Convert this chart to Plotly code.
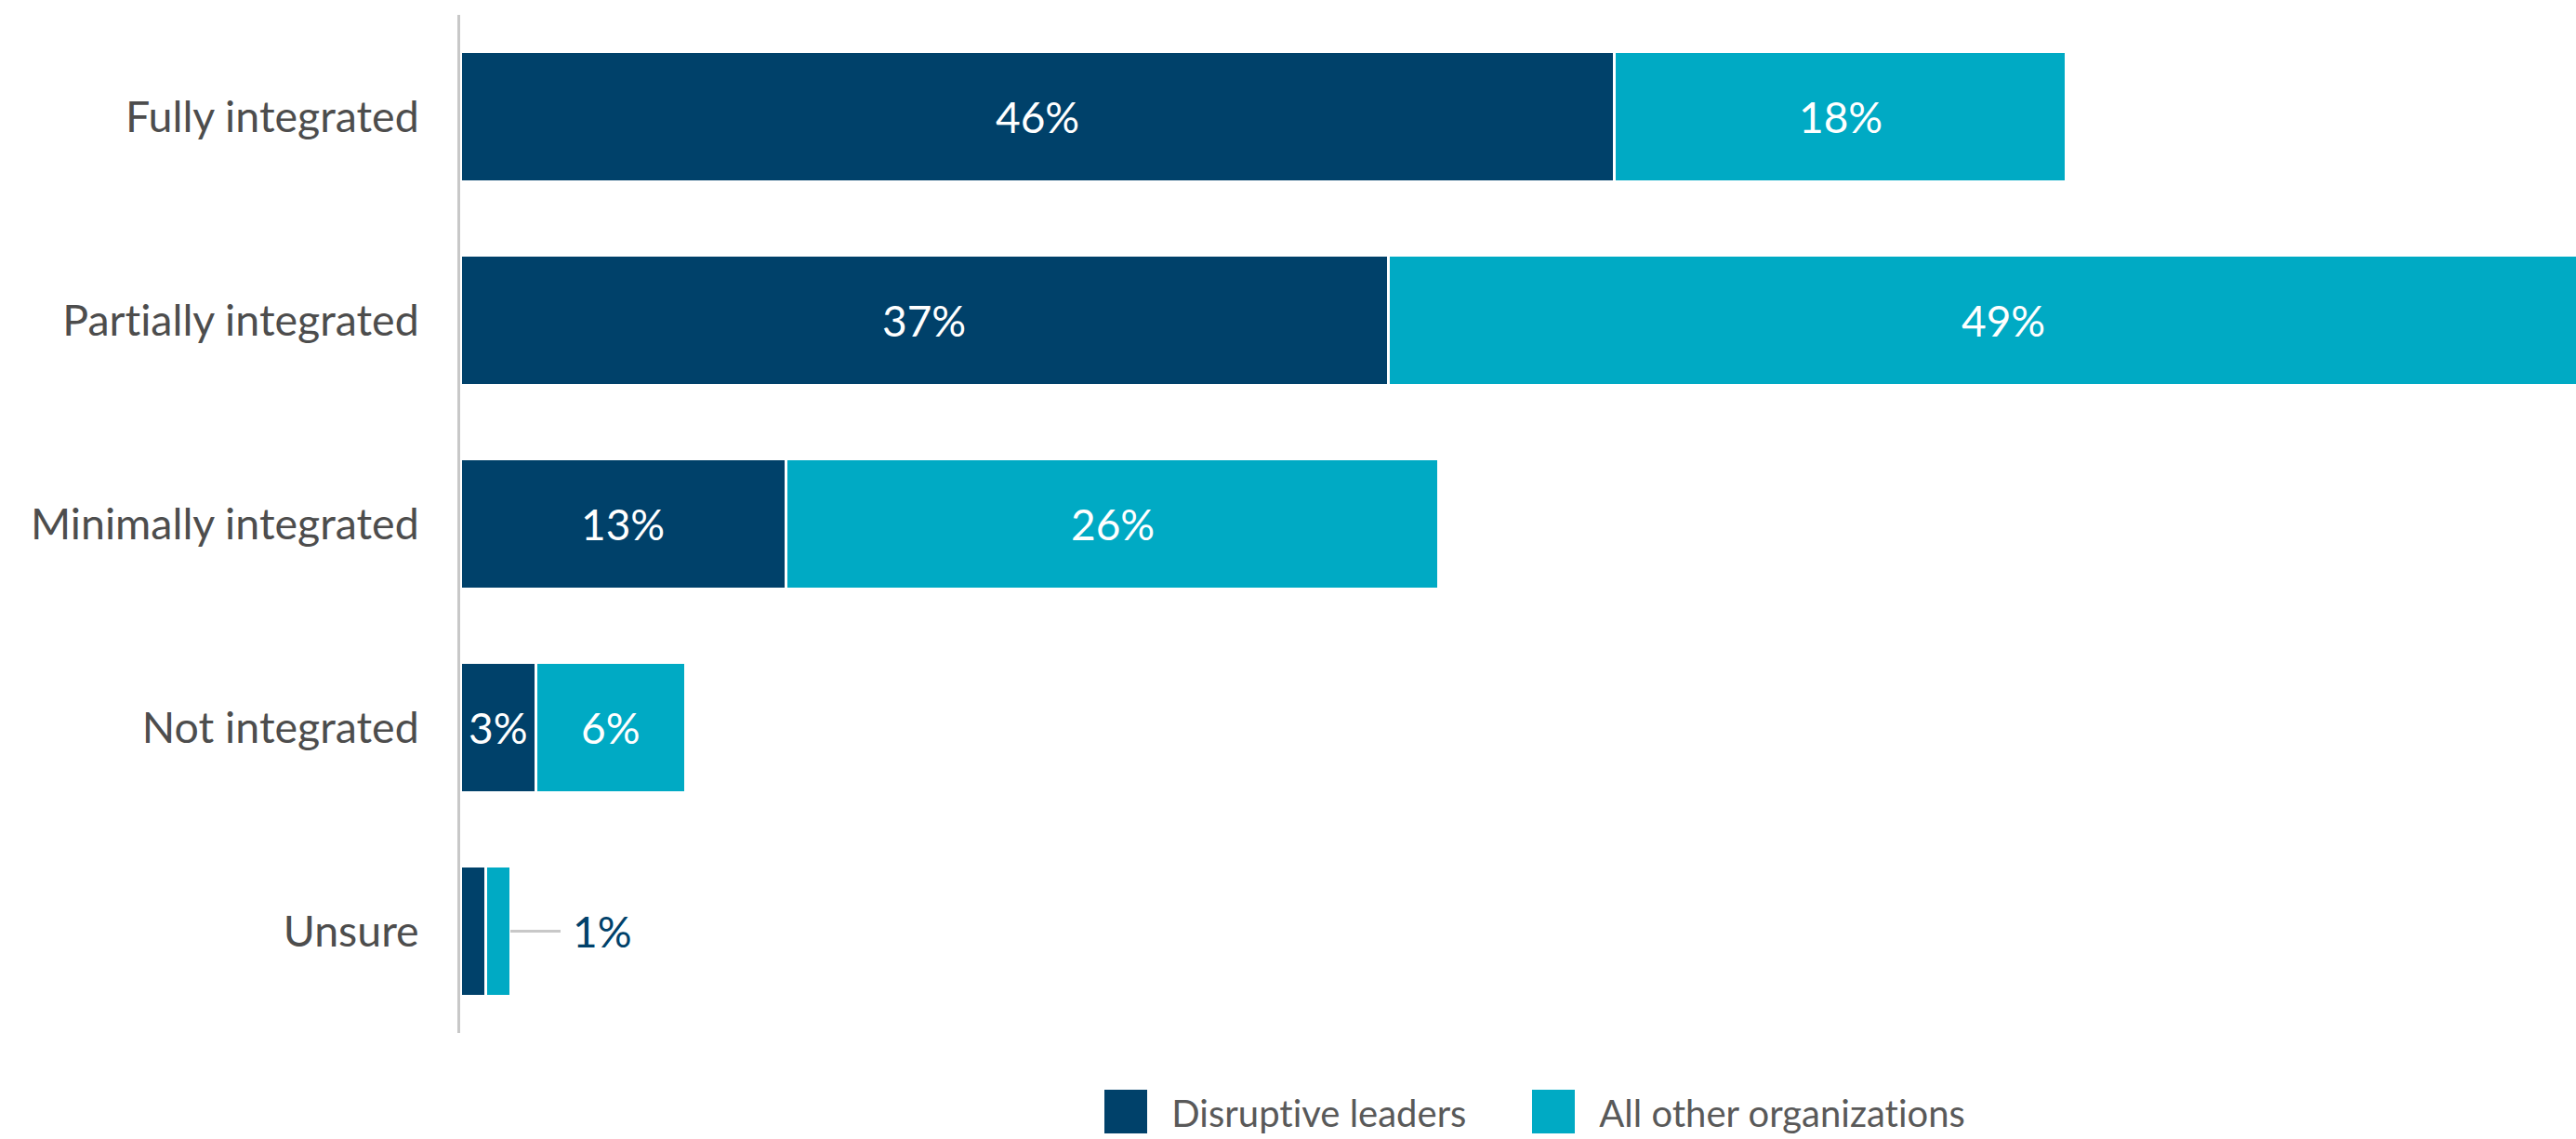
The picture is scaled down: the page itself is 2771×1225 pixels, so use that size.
import plotly.graph_objects as go

# Survey responses: level of integration, share of respondents (%)
categories = ["Fully integrated", "Partially integrated", "Minimally integrated",
              "Not integrated", "Unsure"]
disruptive_leaders = [46, 37, 13, 3, 1]
all_other_orgs = [18, 49, 26, 6, 1]
series_names = ["Disruptive leaders", "All other organizations"]

NAVY = "#00416A"
TEAL = "#00AAC4"
TEXT = "#4D4D4D"
AXIS = "#C8C8C8"
FONT = "Lato, 'Open Sans', sans-serif"

W, H = 2771, 1225
ML, MR, MT, MB = 495, 0, 16, 114
PW, PH = W - ML - MR, H - MT - MB

fig = go.Figure()
for name, vals, col in [(series_names[0], disruptive_leaders, NAVY),
                        (series_names[1], all_other_orgs, TEAL)]:
    fig.add_trace(go.Bar(
        y=categories, x=vals, name=name, orientation="h",
        marker=dict(color=col, line=dict(color="white", width=3)),
        width=0.64, showlegend=False, hoverinfo="skip",
    ))

annotations = []
shapes = []
# value labels centred in each segment; tiny segments get a leader line
for cat, a, b in zip(categories, disruptive_leaders, all_other_orgs):
    if a >= 3:
        annotations.append(dict(x=a / 2, y=cat, text=f"{a}%", showarrow=False,
                                font=dict(color="white", size=46, family=FONT)))
        annotations.append(dict(x=a + b / 2, y=cat, text=f"{b}%", showarrow=False,
                                font=dict(color="white", size=46, family=FONT)))
    else:
        end = a + b
        shapes.append(dict(type="line", xref="x", yref="y", x0=end, x1=end + 2,
                           y0=cat, y1=cat, line=dict(color=AXIS, width=3)))
        annotations.append(dict(x=end + 2.4, y=cat, text=f"{b}%", showarrow=False,
                                xanchor="left",
                                font=dict(color=NAVY, size=46, family=FONT)))


def px_x(px):
    return (px - ML) / PW


def px_y(py):
    return (H - MB - py) / PH


# legend drawn as square swatches with labels
legend_items = [(series_names[0], NAVY, 1188), (series_names[1], TEAL, 1648)]
for name, col, px in legend_items:
    shapes.append(dict(type="rect", xref="paper", yref="paper",
                       x0=px_x(px), x1=px_x(px + 46),
                       y0=px_y(1219), y1=px_y(1172),
                       fillcolor=col, line=dict(width=0)))
    annotations.append(dict(xref="paper", yref="paper", x=px_x(px + 70),
                            y=px_y(1197), text=name, showarrow=False,
                            xanchor="left", yanchor="middle",
                            font=dict(color="#595959", size=40, family=FONT)))

fig.update_layout(
    barmode="stack",
    width=W, height=H,
    margin=dict(l=ML, r=MR, t=MT, b=MB),
    paper_bgcolor="white", plot_bgcolor="white",
    font=dict(family=FONT, color=TEXT, size=46),
    xaxis=dict(range=[0, 84.3], visible=False, fixedrange=True),
    yaxis=dict(categoryorder="array", categoryarray=categories,
               autorange="reversed", showgrid=False, zeroline=False,
               showline=True, linecolor=AXIS, linewidth=3,
               ticks="", ticklabelstandoff=32,
               tickfont=dict(size=46.5, color=TEXT, family=FONT)),
    annotations=annotations,
    shapes=shapes,
)

# plain letterforms (no "ti" ligature)
fig.write_html(
    "out.html",
    post_script="document.querySelectorAll('.js-plotly-plot').forEach("
                "function(d){d.style.fontVariantLigatures='none';"
                "d.style.fontFeatureSettings='\"liga\" 0, \"clig\" 0';});",
)
